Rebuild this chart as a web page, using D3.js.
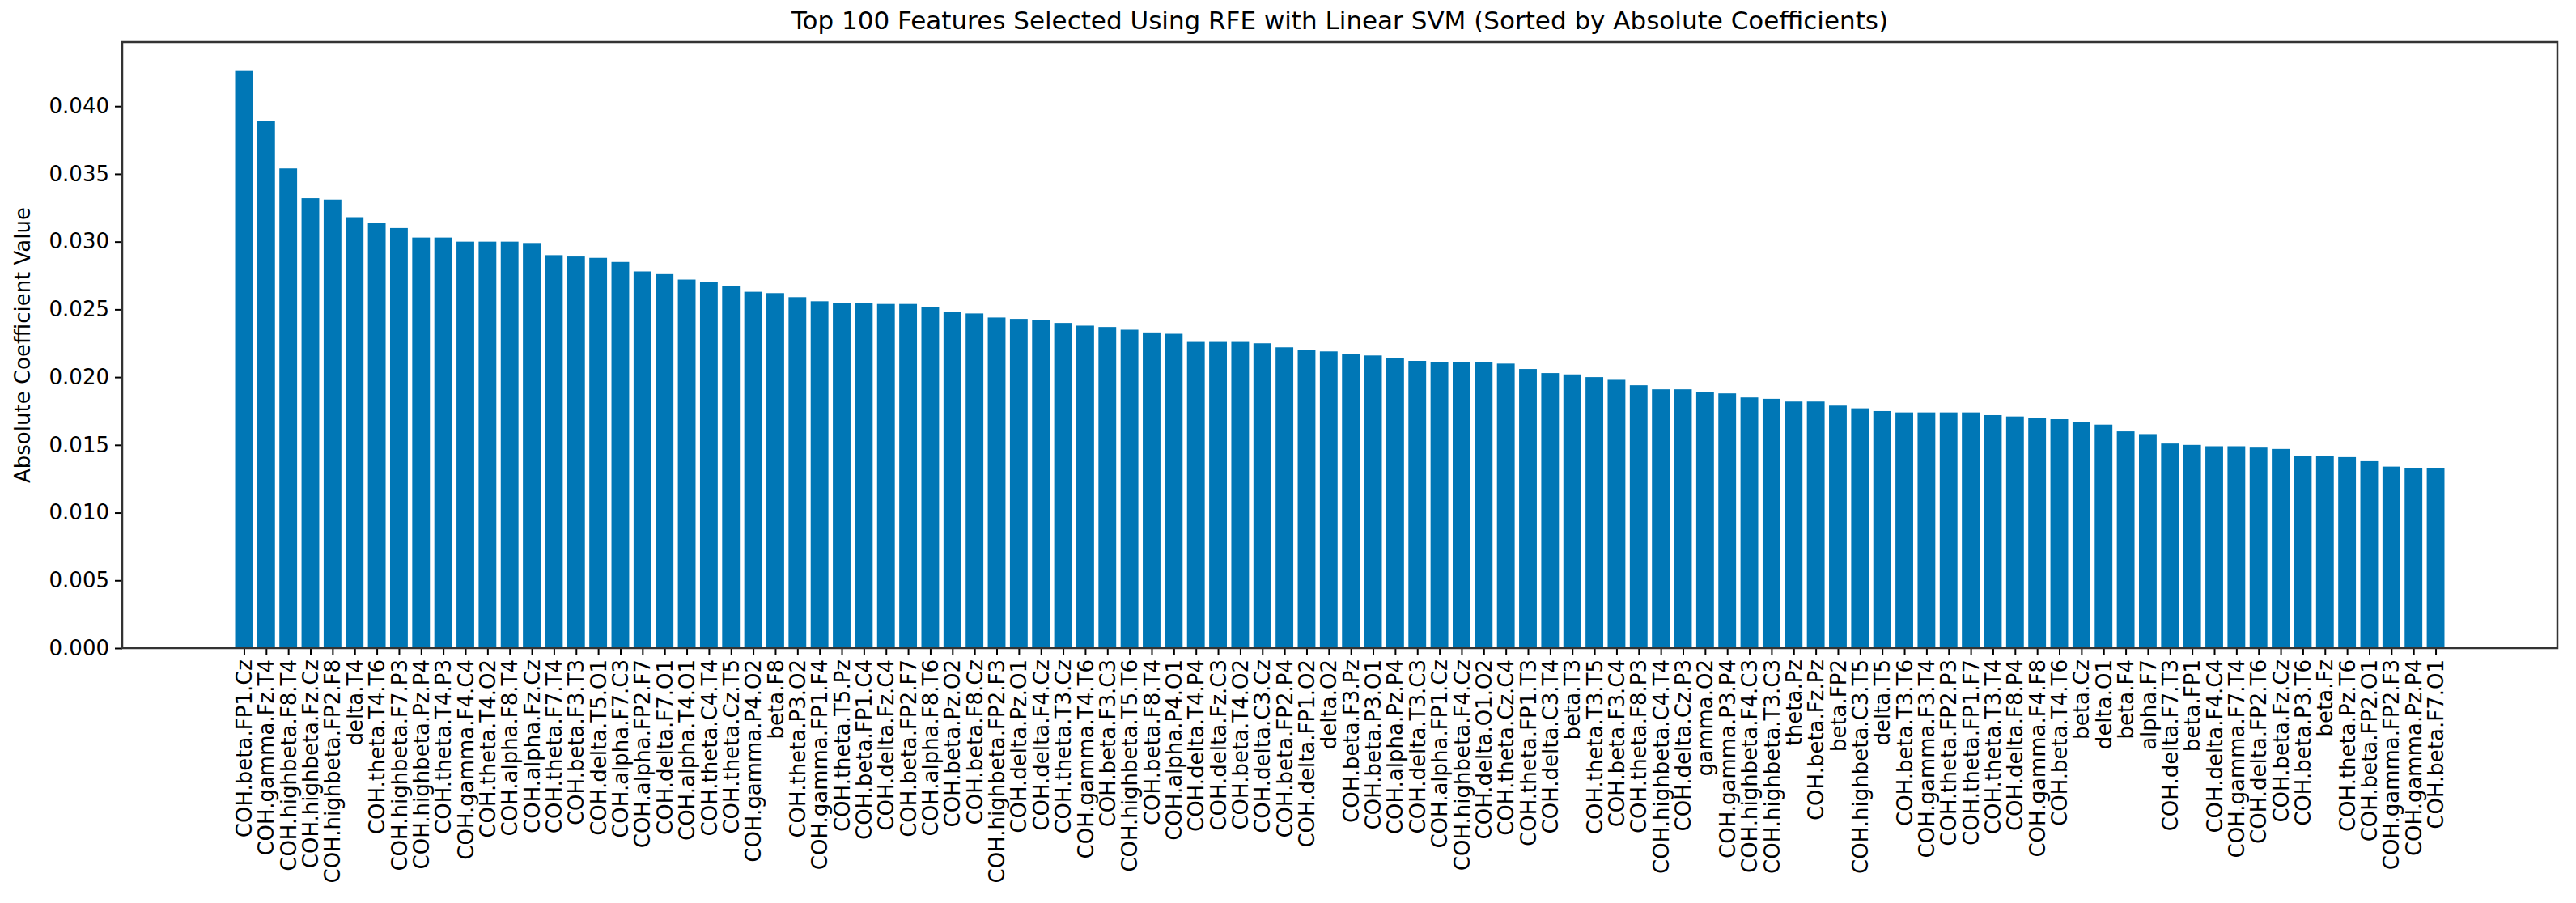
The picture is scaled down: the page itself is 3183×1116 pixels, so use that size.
<!DOCTYPE html>
<html><head><meta charset="utf-8">
<script src="https://cdn.jsdelivr.net/npm/d3@7"></script>
<style>body{margin:0;background:#fff}text{font-family:"DejaVu Sans",sans-serif;fill:#000}</style>
</head><body><svg id="c" width="3183" height="1116"></svg>
<script>
const features = ["COH.beta.FP1.Cz","COH.gamma.Fz.T4","COH.highbeta.F8.T4","COH.highbeta.Fz.Cz","COH.highbeta.FP2.F8","delta.T4","COH.theta.T4.T6","COH.highbeta.F7.P3","COH.highbeta.Pz.P4","COH.theta.T4.P3",
"COH.gamma.F4.C4","COH.theta.T4.O2","COH.alpha.F8.T4","COH.alpha.Fz.Cz","COH.theta.F7.T4","COH.beta.F3.T3","COH.delta.T5.O1","COH.alpha.F7.C3","COH.alpha.FP2.F7","COH.delta.F7.O1",
"COH.alpha.T4.O1","COH.theta.C4.T4","COH.theta.Cz.T5","COH.gamma.P4.O2","beta.F8","COH.theta.P3.O2","COH.gamma.FP1.F4","COH.theta.T5.Pz","COH.beta.FP1.C4","COH.delta.Fz.C4",
"COH.beta.FP2.F7","COH.alpha.F8.T6","COH.beta.Pz.O2","COH.beta.F8.Cz","COH.highbeta.FP2.F3","COH.delta.Pz.O1","COH.delta.F4.Cz","COH.theta.T3.Cz","COH.gamma.T4.T6","COH.beta.F3.C3",
"COH.highbeta.T5.T6","COH.beta.F8.T4","COH.alpha.P4.O1","COH.delta.T4.P4","COH.delta.Fz.C3","COH.beta.T4.O2","COH.delta.C3.Cz","COH.beta.FP2.P4","COH.delta.FP1.O2","delta.O2",
"COH.beta.F3.Pz","COH.beta.P3.O1","COH.alpha.Pz.P4","COH.delta.T3.C3","COH.alpha.FP1.Cz","COH.highbeta.F4.Cz","COH.delta.O1.O2","COH.theta.Cz.C4","COH.theta.FP1.T3","COH.delta.C3.T4",
"beta.T3","COH.theta.T3.T5","COH.beta.F3.C4","COH.theta.F8.P3","COH.highbeta.C4.T4","COH.delta.Cz.P3","gamma.O2","COH.gamma.P3.P4","COH.highbeta.F4.C3","COH.highbeta.T3.C3",
"theta.Pz","COH.beta.Fz.Pz","beta.FP2","COH.highbeta.C3.T5","delta.T5","COH.beta.T3.T6","COH.gamma.F3.T4","COH.theta.FP2.P3","COH.theta.FP1.F7","COH.theta.T3.T4",
"COH.delta.F8.P4","COH.gamma.F4.F8","COH.beta.T4.T6","beta.Cz","delta.O1","beta.F4","alpha.F7","COH.delta.F7.T3","beta.FP1","COH.delta.F4.C4",
"COH.gamma.F7.T4","COH.delta.FP2.T6","COH.beta.Fz.Cz","COH.beta.P3.T6","beta.Fz","COH.theta.Pz.T6","COH.beta.FP2.O1","COH.gamma.FP2.F3","COH.gamma.Pz.P4","COH.beta.F7.O1"];
const coefficients = [0.0426,0.0389,0.0354,0.0332,0.0331,0.0318,0.0314,0.0310,0.0303,0.0303,
0.0300,0.0300,0.0300,0.0299,0.0290,0.0289,0.0288,0.0285,0.0278,0.0276,
0.0272,0.0270,0.0267,0.0263,0.0262,0.0259,0.0256,0.0255,0.0255,0.0254,
0.0254,0.0252,0.0248,0.0247,0.0244,0.0243,0.0242,0.0240,0.0238,0.0237,
0.0235,0.0233,0.0232,0.0226,0.0226,0.0226,0.0225,0.0222,0.0220,0.0219,
0.0217,0.0216,0.0214,0.0212,0.0211,0.0211,0.0211,0.0210,0.0206,0.0203,
0.0202,0.0200,0.0198,0.0194,0.0191,0.0191,0.0189,0.0188,0.0185,0.0184,
0.0182,0.0182,0.0179,0.0177,0.0175,0.0174,0.0174,0.0174,0.0174,0.0172,
0.0171,0.0170,0.0169,0.0167,0.0165,0.0160,0.0158,0.0151,0.0150,0.0149,
0.0149,0.0148,0.0147,0.0142,0.0142,0.0141,0.0138,0.0134,0.0133,0.0133];
const yTicks = [0,0.005,0.010,0.015,0.020,0.025,0.030,0.035,0.040];
const title = "Top 100 Features Selected Using RFE with Linear SVM (Sorted by Absolute Coefficients)";
const yLabel = "Absolute Coefficient Value";

const L=151,R=3160,T=52,B=801;
const svg=d3.select("#c");
const n=features.length, pad=(n+10)*0.05;
const x=d3.scaleLinear().domain([-0.5-pad+0.5, n-1+pad]).range([L,R]);
const y=d3.scaleLinear().domain([0,d3.max(coefficients)*1.05]).range([B,T]);
const bw=x(0.8)-x(0);
svg.append("g").selectAll("rect").data(coefficients).join("rect")
  .attr("x",(d,i)=>x(i-0.4)).attr("width",bw)
  .attr("y",d=>y(d)).attr("height",d=>B-y(d)).attr("fill","#0077b6");
const ya=svg.append("g").attr("transform",`translate(${L},0)`)
  .call(d3.axisLeft(y).tickValues(yTicks).tickFormat(d3.format(".3f")).tickSize(9).tickPadding(7));
ya.selectAll("text").style("font-size","26px");
const xa=svg.append("g").attr("transform",`translate(0,${B})`)
  .call(d3.axisBottom(x).tickValues(d3.range(n)).tickFormat(i=>features[i]).tickSize(9));
xa.selectAll("text").style("font-size","26px").attr("transform","rotate(-90)")
  .attr("text-anchor","end").attr("x",-14).attr("y",0).attr("dy","0.35em");
[ya,xa].forEach(a=>{a.select(".domain").remove();a.selectAll("line").attr("stroke","#000").attr("stroke-width",2);});
svg.append("rect").attr("x",L).attr("y",T).attr("width",R-L).attr("height",B-T)
  .attr("fill","none").attr("stroke","#333").attr("stroke-width",2.5);
svg.append("text").attr("x",(L+R)/2).attr("y",36).attr("text-anchor","middle")
  .style("font-size","31px").text(title);
svg.append("text").attr("transform",`translate(28,${(T+B)/2}) rotate(-90)`)
  .attr("text-anchor","middle").attr("dy","0.35em").style("font-size","26px").text(yLabel);
</script></body></html>
